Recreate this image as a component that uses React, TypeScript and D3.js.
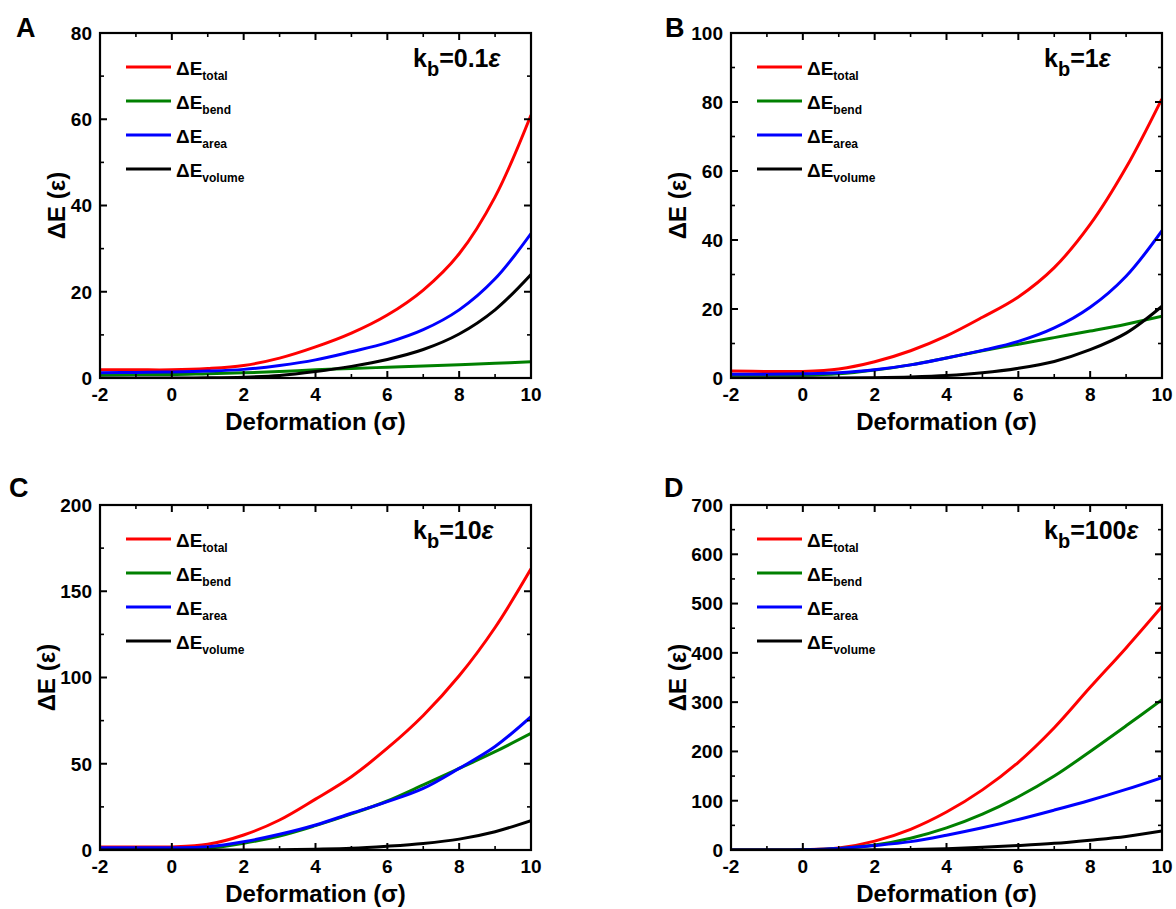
import React from 'react';
import * as d3 from 'd3';

// ---- data ----
const deformation = [-2, -1, 0, 1, 2, 3, 4, 5, 6, 7, 8, 9, 10];
const xTicks = [-2, 0, 2, 4, 6, 8, 10];
const seriesNames = ['total', 'bend', 'area', 'volume'];
const seriesColors = ['#ff0000', '#008000', '#0000ff', '#000000'];

const panelLetters = ['A', 'B', 'C', 'D'];
const kbValues = ['0.1', '1', '10', '100'];
const yMaxes = [80, 100, 200, 700];
const yMajorSteps = [20, 20, 50, 100];

// Panel A: kb = 0.1
const aTotal = [1.9, 1.9, 1.9, 2.2, 2.9, 4.6, 7.2, 10.4, 14.6, 20.4, 28.8, 42, 61];
const aBend = [0.7, 0.8, 0.8, 1.0, 1.2, 1.5, 1.9, 2.2, 2.5, 2.8, 3.1, 3.4, 3.75];
const aArea = [1.2, 1.3, 1.4, 1.6, 2.0, 2.9, 4.2, 6.1, 8.2, 11.2, 15.8, 23, 33.5];
const aVolume = [0, 0, 0, 0.05, 0.2, 0.6, 1.5, 2.7, 4.3, 6.6, 10.2, 15.8, 24];

// Panel B: kb = 1
const bTotal = [2.0, 1.9, 1.9, 2.6, 4.7, 7.9, 12.2, 17.6, 23.5, 32, 44.5, 61, 81];
const bBend = [0.8, 0.8, 0.8, 1.2, 2.3, 3.8, 5.8, 7.9, 9.8, 11.7, 13.6, 15.6, 17.9];
const bArea = [1.1, 1.1, 1.2, 1.5, 2.4, 3.8, 5.8, 8.0, 10.6, 14.5, 20.5, 29.5, 42.7];
const bVolume = [0, 0, 0, 0, 0.1, 0.3, 0.7, 1.5, 2.8, 4.8, 8.2, 13, 20.8];

// Panel C: kb = 10
const cTotal = [1.8, 1.8, 1.8, 3.3, 8.7, 17.4, 29.5, 42.5, 59, 78, 101, 129, 163];
const cBend = [0.3, 0.3, 0.3, 1.0, 3.9, 8.1, 14.1, 20.9, 28.4, 37.7, 47.3, 57, 67.6];
const cArea = [1.3, 1.3, 1.3, 1.9, 4.8, 9.1, 14.5, 21.3, 28, 35.7, 47.3, 60, 77.3];
const cVolume = [0, 0, 0, 0, 0, 0.2, 0.5, 1.0, 2.2, 3.8, 6.3, 10.6, 17];

// Panel D: kb = 100
const dTotal = [0, 0, 0.5, 4, 18, 42, 77, 122, 178, 248, 330, 410, 494];
const dBend = [0, 0, 0.5, 3, 10, 24, 45, 73, 108, 150, 200, 252, 305];
const dArea = [0, 0, 0.5, 3, 9, 17, 30, 45, 62, 81, 101, 123, 147];
const dVolume = [0, 0, 0, 0, 0.5, 1.2, 2.7, 5.4, 9, 13.5, 20, 27.5, 38.5];

const panelSeries = [
  [aTotal, aBend, aArea, aVolume],
  [bTotal, bBend, bArea, bVolume],
  [cTotal, cBend, cArea, cVolume],
  [dTotal, dBend, dArea, dVolume],
];

// ---- layout ----
const FONT = '"Liberation Sans", Arial, Helvetica, sans-serif';
const panelLefts = [100, 731, 100, 731];
const panelTops = [33, 33, 505, 505];
const panelW = 431;
const panelH = 345;
const letterPos = [
  [16, 37],
  [665, 37],
  [9, 497],
  [664, 497],
];

function Panel({ idx }: { idx: number }) {
  const left = panelLefts[idx];
  const top = panelTops[idx];
  const right = left + panelW;
  const bottom = top + panelH;
  const x = d3.scaleLinear().domain([-2, 10]).range([left, right]);
  const y = d3.scaleLinear().domain([0, yMaxes[idx]]).range([bottom, top]);
  const step = yMajorSteps[idx];
  const yMajor = d3.range(0, yMaxes[idx] + 0.001, step);
  const yMinor = d3.range(step / 2, yMaxes[idx], step);
  const xMinor = d3.range(-1, 10, 2);
  const maxChars = d3.max(yMajor, (t) => String(t).length) || 2;
  const titleX = left - 22 - maxChars * 10.6;
  const line = d3
    .line<number>()
    .x((_, i) => x(deformation[i]))
    .y((v) => y(v))
    .curve(d3.curveCatmullRom.alpha(0.5));
  const clipId = `clip${idx}`;
  const majLen = 7;
  const minLen = 4;
  return (
    <g>
      <defs>
        <clipPath id={clipId}>
          <rect x={left} y={top - 2} width={panelW} height={panelH + 2} />
        </clipPath>
      </defs>
      {/* curves */}
      <g clipPath={`url(#${clipId})`}>
        {panelSeries[idx].map((vals, s) => (
          <path
            key={s}
            d={line(vals) || ''}
            fill="none"
            stroke={seriesColors[s]}
            strokeWidth={3}
            strokeLinejoin="round"
          />
        ))}
      </g>
      {/* ticks */}
      {xTicks.map((t) => (
        <g key={'xt' + t}>
          <line x1={x(t)} x2={x(t)} y1={bottom} y2={bottom - majLen} stroke="#000" strokeWidth={2} />
          <line x1={x(t)} x2={x(t)} y1={top} y2={top + majLen} stroke="#000" strokeWidth={2} />
          <text
            x={x(t)}
            y={bottom + 23}
            textAnchor="middle"
            fontFamily={FONT}
            fontWeight="bold"
            fontSize={19}
          >
            {t}
          </text>
        </g>
      ))}
      {xMinor.map((t) => (
        <g key={'xm' + t}>
          <line x1={x(t)} x2={x(t)} y1={bottom} y2={bottom - minLen} stroke="#000" strokeWidth={1.6} />
          <line x1={x(t)} x2={x(t)} y1={top} y2={top + minLen} stroke="#000" strokeWidth={1.6} />
        </g>
      ))}
      {yMajor.map((t) => (
        <g key={'yt' + t}>
          <line x1={left} x2={left + majLen} y1={y(t)} y2={y(t)} stroke="#000" strokeWidth={2} />
          <line x1={right} x2={right - majLen} y1={y(t)} y2={y(t)} stroke="#000" strokeWidth={2} />
          <text
            x={left - 8}
            y={y(t)}
            dy="0.36em"
            textAnchor="end"
            fontFamily={FONT}
            fontWeight="bold"
            fontSize={19}
          >
            {t}
          </text>
        </g>
      ))}
      {yMinor.map((t) => (
        <g key={'ym' + t}>
          <line x1={left} x2={left + minLen} y1={y(t)} y2={y(t)} stroke="#000" strokeWidth={1.6} />
          <line x1={right} x2={right - minLen} y1={y(t)} y2={y(t)} stroke="#000" strokeWidth={1.6} />
        </g>
      ))}
      {/* frame */}
      <rect x={left} y={top} width={panelW} height={panelH} fill="none" stroke="#000" strokeWidth={2.2} />
      {/* axis titles */}
      <text
        x={(left + right) / 2}
        y={bottom + 52}
        textAnchor="middle"
        fontFamily={FONT}
        fontWeight="bold"
        fontSize={24}
      >
        Deformation (σ)
      </text>
      <text
        transform={`translate(${titleX},${(top + bottom) / 2}) rotate(-90)`}
        dy="0.36em"
        textAnchor="middle"
        fontFamily={FONT}
        fontWeight="bold"
        fontSize={24}
      >
        ΔE (ε)
      </text>
      {/* legend */}
      {seriesNames.map((name, s) => {
        const ly = top + 34 + s * 34;
        return (
          <g key={'lg' + s}>
            <line x1={left + 26} x2={left + 71} y1={ly} y2={ly} stroke={seriesColors[s]} strokeWidth={3} />
            <text x={left + 76} y={ly + 8} fontFamily={FONT} fontWeight="bold" fontSize={19}>
              ΔE
              <tspan fontSize={12} dy={5}>
                {name}
              </tspan>
            </text>
          </g>
        );
      })}
      {/* kb annotation */}
      <text x={left + 313} y={top + 34} fontFamily={FONT} fontWeight="bold" fontSize={25}>
        k
        <tspan fontSize={20} dy={9}>
          b
        </tspan>
        <tspan dy={-9}>={kbValues[idx]}</tspan>
        <tspan fontStyle="italic">ε</tspan>
      </text>
      {/* panel letter */}
      <text
        x={letterPos[idx][0]}
        y={letterPos[idx][1]}
        fontFamily={FONT}
        fontWeight="bold"
        fontSize={27}
      >
        {panelLetters[idx]}
      </text>
    </g>
  );
}

export default function App() {
  return (
    <svg
      width={1176}
      height={909}
      style={{ position: 'absolute', left: 0, top: 0, display: 'block', background: '#fff' }}
    >
      <rect x={0} y={0} width={1176} height={909} fill="#fff" />
      {[0, 1, 2, 3].map((i) => (
        <Panel key={i} idx={i} />
      ))}
    </svg>
  );
}
